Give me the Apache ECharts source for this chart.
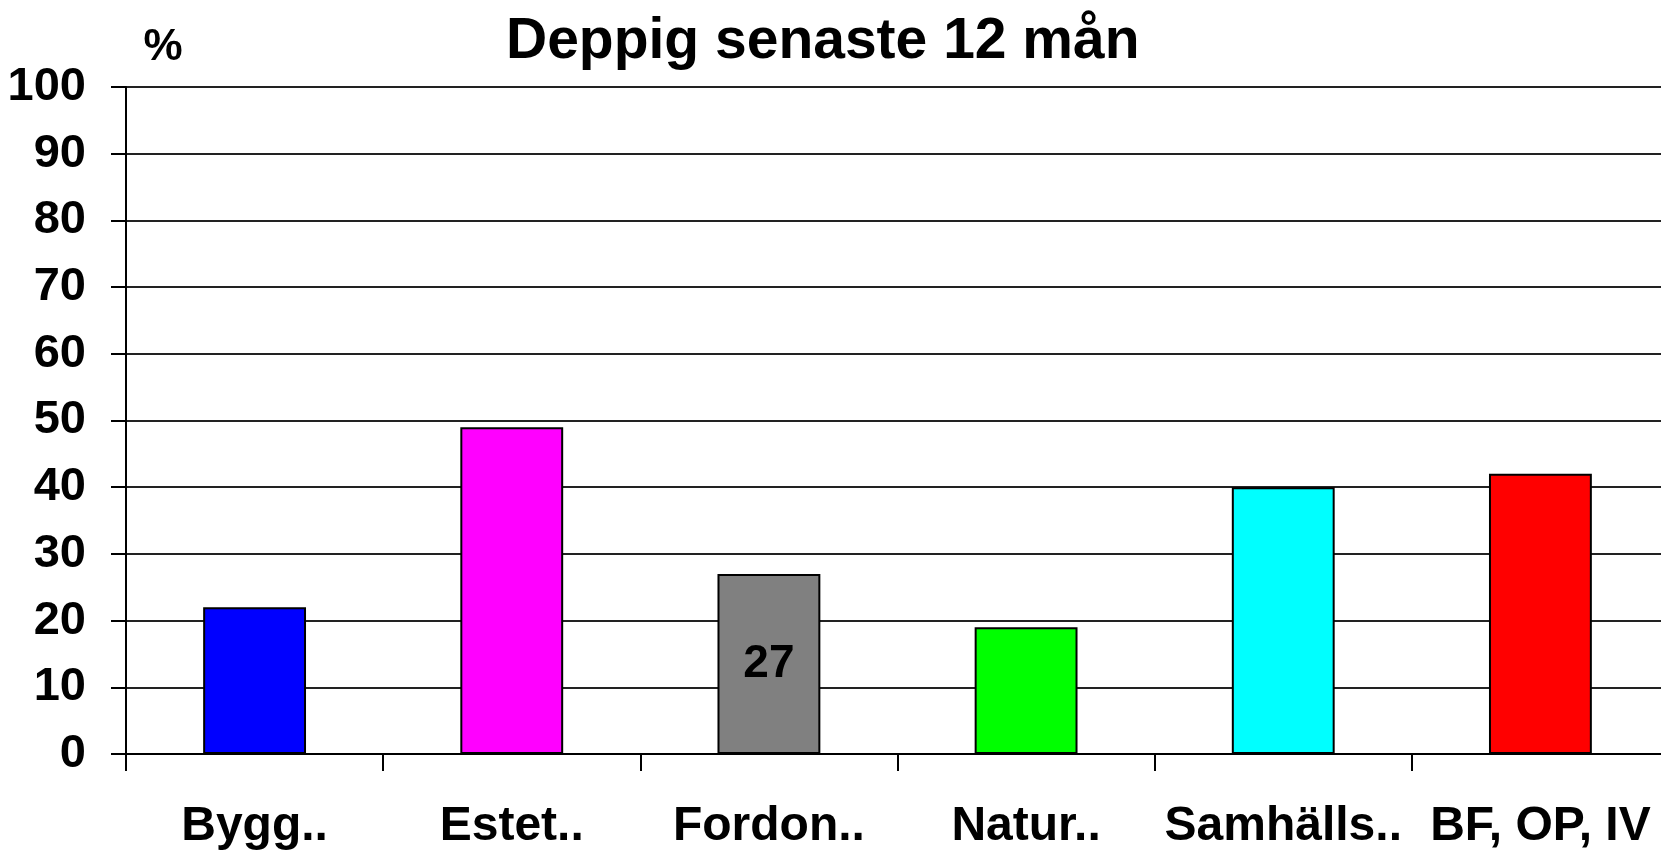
<!DOCTYPE html>
<html>
<head>
<meta charset="utf-8">
<script src="https://cdn.jsdelivr.net/npm/echarts@6/dist/echarts.min.js"></script>
<style>
html,body{margin:0;padding:0;background:#fff;overflow:hidden;}
#c{width:1669px;height:853px;}
</style>
</head>
<body>
<div id="c"></div>
<script>
const titleText = 'Deppig senaste 12 mån';
const unitLabel = '%';
const categories = ['Bygg..', 'Estet..', 'Fordon..', 'Natur..', 'Samhälls..', 'BF, OP, IV'];
const values = [22, 49, 27, 19, 40, 42];
const colors = ['#0000FF', '#FF00FF', '#808080', '#00FF00', '#00FFFF', '#FF0000'];
const labelledIndex = [2];

const FONT = '"Liberation Sans", Arial, sans-serif';
const chart = echarts.init(document.getElementById('c'), null, {renderer: 'canvas'});

const seriesData = values.map((v, i) => ({
  value: v,
  itemStyle: {color: colors[i]},
  label: {show: labelledIndex.includes(i)}
}));

chart.setOption({
  backgroundColor: '#fff',
  animation: false,
  title: {
    text: titleText,
    left: 501,
    top: 9,
    textStyle: {fontFamily: FONT, fontWeight: 'bold', fontSize: 57, color: '#000'}
  },
  graphic: [{
    type: 'text',
    x: 163, y: 48,
    style: {text: unitLabel, fontFamily: FONT, fontWeight: 'bold', fontSize: 44, fill: '#000', textAlign: 'center', textVerticalAlign: 'middle'}
  }],
  grid: {left: 126, right: 0, top: 87, bottom: 99, containLabel: false},
  xAxis: {
    type: 'category',
    data: categories,
    axisLine: {lineStyle: {color: '#000', width: 2}},
    axisTick: {show: true, length: 17, lineStyle: {color: '#000', width: 2}},
    axisLabel: {fontFamily: FONT, fontWeight: 'bold', fontSize: 48, color: '#000', margin: 49, interval: 0},
    splitLine: {show: false}
  },
  yAxis: {
    type: 'value',
    min: 0, max: 100, interval: 10,
    axisLine: {show: true, lineStyle: {color: '#000', width: 2}},
    axisTick: {show: true, length: 15, lineStyle: {color: '#000', width: 2}},
    axisLabel: {fontFamily: FONT, fontWeight: 'bold', fontSize: 47, color: '#000', margin: 40},
    splitLine: {show: true, lineStyle: {color: '#222', width: 2}}
  },
  series: [{
    type: 'bar',
    data: seriesData,
    barWidth: '40%',
    itemStyle: {borderColor: '#000', borderWidth: 2},
    label: {position: 'inside', fontFamily: FONT, fontWeight: 'bold', fontSize: 46, color: '#000', formatter: '{c}'}
  }]
});
</script>
</body>
</html>
